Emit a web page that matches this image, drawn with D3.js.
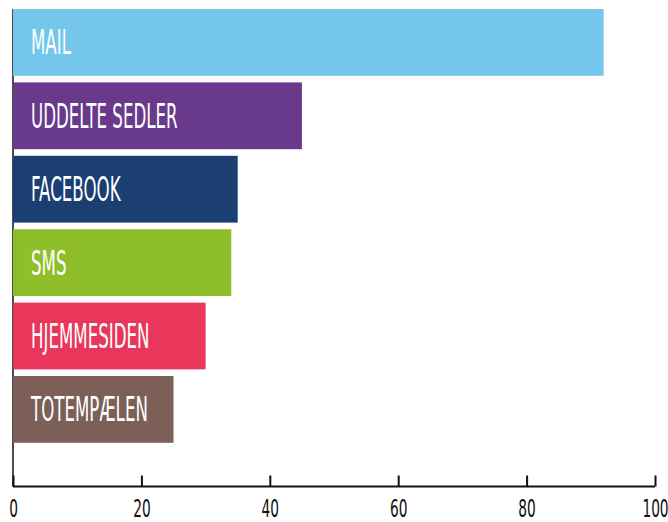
<!DOCTYPE html>
<html>
<head>
<meta charset="utf-8">
<script src="https://cdn.jsdelivr.net/npm/d3@7"></script>
<style>
  body { margin: 0; background: #fff; }
  .bar-label { font-family: "DejaVu Sans", sans-serif; fill: #fff; }
  .tick-label { font-family: "DejaVu Sans", sans-serif; fill: #111; }
</style>
</head>
<body>
<svg id="chart" width="668" height="522"></svg>
<script>
// Data
const categories = ['MAIL', 'UDDELTE SEDLER', 'FACEBOOK', 'SMS', 'HJEMMESIDEN', 'TOTEMPÆLEN'];
const values = [92, 45, 35, 34, 30, 25];
const colors = ['#74c7ea', '#693a8b', '#1b3e73', '#8ebe2a', '#e8375a', '#7c6058'];
const xTicks = [0, 20, 40, 60, 80, 100];

const svg = d3.select('#chart');

// Scales
const x = d3.scaleLinear().domain([0, 100]).range([13, 655]);
const y = d3.scaleBand()
    .domain(categories)
    .range([2.4, 449.4])
    .padding(0.09);
const axisY = 486.5;

// y axis line (behind the bars)
svg.append('line')
    .attr('x1', x(0)).attr('x2', x(0))
    .attr('y1', y(categories[0])).attr('y2', axisY)
    .attr('stroke', '#111')
    .attr('stroke-width', 1.5);

// Bars
svg.selectAll('.bar')
    .data(categories)
    .enter()
    .append('rect')
    .attr('class', 'bar')
    .attr('x', x(0))
    .attr('y', d => y(d))
    .attr('width', (d, i) => x(values[i]) - x(0))
    .attr('height', y.bandwidth())
    .attr('fill', (d, i) => colors[i]);

// Labels inside bars (squeezed to mimic the condensed hand-lettered font)
svg.selectAll('.bar-label')
    .data(categories)
    .enter()
    .append('text')
    .attr('class', 'bar-label')
    .attr('transform', d => `translate(31, ${y(d) + y.bandwidth() / 2 + 12}) scale(0.49, 1)`)
    .style('font-size', '34px')
    .text(d => d);

// x axis
const axis = d3.axisBottom(x)
    .tickValues(xTicks)
    .tickSize(-11)
    .tickFormat('');
const gx = svg.append('g')
    .attr('transform', `translate(0, ${axisY})`)
    .call(axis);
gx.select('.domain').attr('stroke', '#111').attr('stroke-width', 2).attr('d', `M${x(0)},0H${x(100)}`);
gx.selectAll('.tick line').attr('stroke', '#111').attr('stroke-width', 2);

gx.selectAll('.tick')
    .append('text')
    .attr('class', 'tick-label')
    .attr('transform', 'translate(0, 30) scale(0.55, 1)')
    .attr('text-anchor', 'middle')
    .style('font-size', '25px')
    .text(d => d);
</script>
</body>
</html>
